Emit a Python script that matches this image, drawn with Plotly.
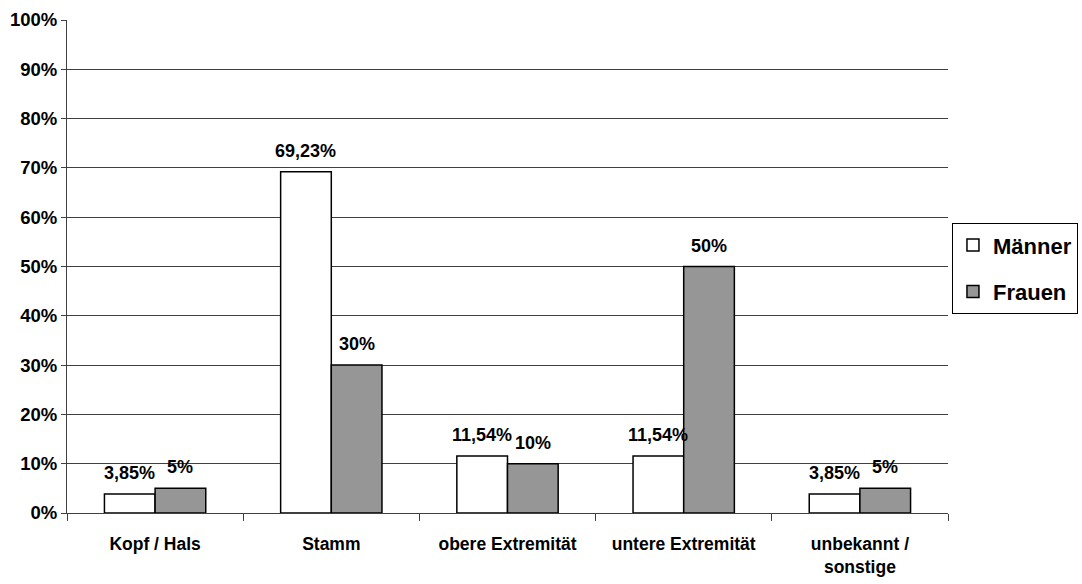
import plotly.graph_objects as go

categories = ["Kopf / Hals", "Stamm", "obere Extremität", "untere Extremität", "unbekannt /<br>sonstige"]
maenner = [3.85, 69.23, 11.54, 11.54, 3.85]
frauen = [5, 30, 10, 50, 5]
y_ticks = list(range(0, 101, 10))
y_tick_text = [f"{v}%" for v in y_ticks]


def de_pct(v):
    s = f"{v:.2f}".rstrip("0").rstrip(".")
    return s.replace(".", ",") + "%"


FONT = "Liberation Sans, Arial, sans-serif"
GAP = 0.425
OFF = (1 - GAP) / 4
AXIS = "#404040"

fig = go.Figure()
fig.add_bar(name="Männer", x=categories, y=maenner, legendgroup="m",
            marker=dict(color="white", line=dict(color="black", width=1.5)))
fig.add_bar(name="Frauen", x=categories, y=frauen, legendgroup="f",
            marker=dict(color="#969696", line=dict(color="black", width=1.5)))

annotations = []
for i, (m, f) in enumerate(zip(maenner, frauen)):
    for val, dx in ((m, -OFF), (f, OFF)):
        annotations.append(dict(x=i + dx, y=val, xref="x", yref="y", text=de_pct(val),
                                showarrow=False, yanchor="middle", yshift=21,
                                font=dict(family=FONT, size=18, color="black", weight="bold")))

fig.update_layout(
    width=1082, height=584,
    margin=dict(l=67, r=134, t=20, b=71, autoexpand=False),
    paper_bgcolor="white", plot_bgcolor="white",
    barmode="group", bargap=GAP, bargroupgap=0,
    font=dict(family=FONT, size=18, color="black", weight="bold"),
    annotations=annotations,
    legend=dict(x=1.0045, y=0.588, xanchor="left", yanchor="top",
                bordercolor="black", borderwidth=1,
                font=dict(family=FONT, size=22, weight="bold"),
                tracegroupgap=15, itemwidth=30, traceorder="grouped"),
    showlegend=True,
)
fig.update_xaxes(type="category", tickson="boundaries", ticks="outside", ticklen=7,
                 tickcolor=AXIS, showline=True, linecolor=AXIS,
                 ticklabelstandoff=15,
                 tickfont=dict(family=FONT, size=17.5, weight="bold"), showgrid=False)
fig.update_yaxes(range=[0, 100], tickvals=y_ticks, ticktext=y_tick_text,
                 ticks="outside", ticklen=5, tickcolor=AXIS,
                 showline=True, linecolor=AXIS, showgrid=True,
                 gridcolor=AXIS, gridwidth=1, zeroline=False,
                 tickfont=dict(family=FONT, size=18.5, weight="bold"))

fig.write_html("out.html")
